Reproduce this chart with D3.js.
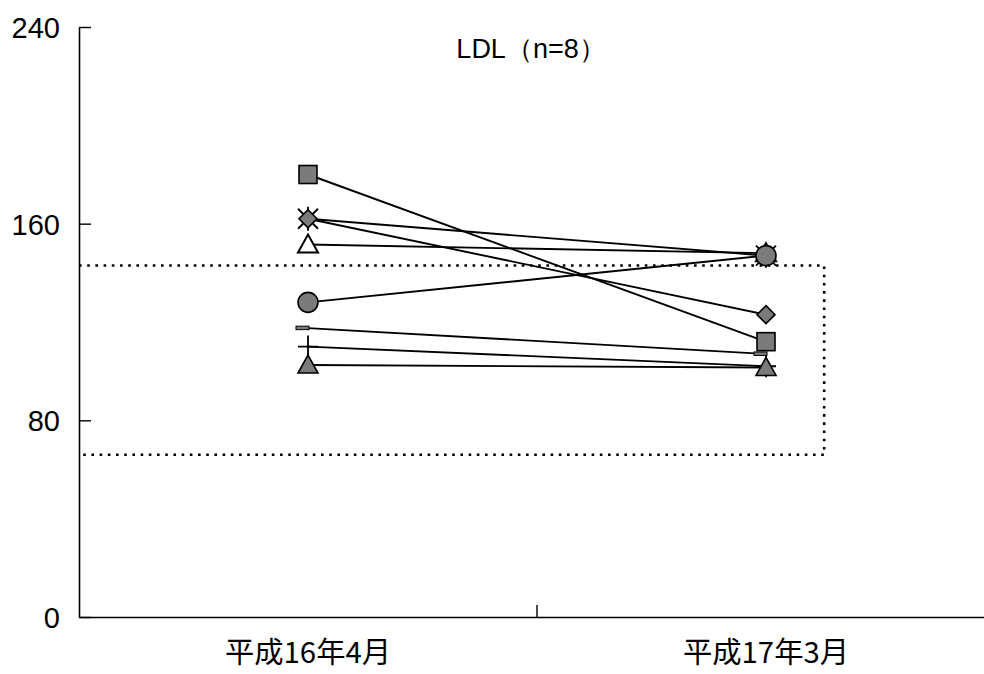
<!DOCTYPE html>
<html><head><meta charset="utf-8">
<script src="https://cdn.jsdelivr.net/npm/d3@7"></script>
<style>body{margin:0;background:#fff}svg{display:block}</style>
</head><body>
<svg id="c" width="984" height="674"></svg>
<script>
const categories = ["平成16年4月", "平成17年3月"];
const yTicks = [0, 80, 160, 240];
const title = "LDL（n=8）";
const refBand = [66, 143];
// series values [start, end] in draw order
const seriesNames = ["star", "plus", "dash", "openTriangle", "circle", "diamond", "square", "filledTriangle"];
const starVals = [162, 147];
const plusVals = [110, 102];
const dashVals = [117.5, 107];
const openTriangleVals = [151.5, 148];
const circleVals = [128, 147];
const diamondVals = [162, 123];
const squareVals = [180, 112];
const filledTriangleVals = [102.5, 101.5];
const allVals = [starVals, plusVals, dashVals, openTriangleVals, circleVals, diamondVals, squareVals, filledTriangleVals];

const svg = d3.select("#c");
const x = d3.scaleBand().domain(categories).range([79, 995]).padding(0);
const y = d3.scaleLinear().domain([0, 240]).range([617, 27]);
const cx = c => x(c) + x.bandwidth() / 2;

// reference box (dotted)
const boxRight = x(categories[1]) + x.bandwidth() * 0.627;
svg.append("path")
  .attr("d", `M${x.range()[0]},${y(refBand[1])}H${boxRight}V${y(refBand[0])}H${x.range()[0]}`)
  .attr("fill", "none").attr("stroke", "#000").attr("stroke-width", 2.6)
  .attr("stroke-dasharray", "2.6,5.6");

// y axis
const yAxis = d3.axisLeft(y).tickValues(yTicks).tickSizeInner(-12).tickSizeOuter(0).tickPadding(19);
const gy = svg.append("g").attr("transform", `translate(${x.range()[0]},0)`).call(yAxis);
gy.select(".domain").attr("stroke-width", 1.6);
gy.selectAll(".tick line").attr("stroke-width", 1.4);
gy.selectAll("text").attr("font-family", "Liberation Sans, Arial, sans-serif").attr("font-size", 29).attr("fill", "#000").attr("dy", "0.36em");

// x axis
const xAxis = d3.axisBottom(x).tickSize(0).tickPadding(25);
const gx = svg.append("g").attr("transform", `translate(0,${y(0)})`).call(xAxis);
gx.select(".domain").attr("stroke-width", 1.6);
gx.selectAll("text").attr("font-family", "Noto Sans CJK JP, sans-serif").attr("font-size", 29)
  .attr("fill", "#000").attr("textLength", 166).attr("lengthAdjust", "spacingAndGlyphs").attr("dy", "0.72em");
svg.append("line").attr("x1", x(categories[1])).attr("x2", x(categories[1]))
  .attr("y1", y(0)).attr("y2", y(0) - 12).attr("stroke", "#000").attr("stroke-width", 1.4);

// title
svg.append("text").attr("x", cx(categories[0]) + (cx(categories[1]) - cx(categories[0])) * 0.487).attr("y", 58)
  .attr("text-anchor", "middle").attr("font-family", "Liberation Sans, Arial, sans-serif").attr("font-size", 27)
  .attr("fill", "#000")
  .text(title);

// lines
allVals.forEach(vals => {
  svg.append("path")
    .attr("d", d3.line().x((d, i) => cx(categories[i])).y(d => y(d))(vals))
    .attr("fill", "none").attr("stroke", "#000").attr("stroke-width", 1.9);
});

// markers
const gray = "#7b7b7b";
function drawMarker(name, px, py) {
  const g = svg.append("g").attr("transform", `translate(${px},${py})`);
  if (name === "star") {
    g.append("path").attr("d", "M-10,-10L10,10M10,-10L-10,10M0,-12V12")
      .attr("stroke", "#000").attr("stroke-width", 1.8).attr("fill", "none");
  } else if (name === "plus") {
    g.append("path").attr("d", "M-10,0H10M0,-11V11").attr("stroke", "#000").attr("stroke-width", 1.8);
  } else if (name === "dash") {
    g.append("rect").attr("x", -12).attr("y", -2).attr("width", 13).attr("height", 3.5)
      .attr("fill", gray).attr("stroke", "#000").attr("stroke-width", 1);
  } else if (name === "openTriangle") {
    g.append("path").attr("d", "M0,-10L10,8H-10Z").attr("fill", "#fff").attr("stroke", "#000").attr("stroke-width", 2);
  } else if (name === "filledTriangle") {
    g.append("path").attr("d", "M0,-10L10,8H-10Z").attr("fill", gray).attr("stroke", "#000").attr("stroke-width", 1.6);
  } else if (name === "circle") {
    g.append("circle").attr("r", 10).attr("fill", gray).attr("stroke", "#000").attr("stroke-width", 1.6);
  } else if (name === "diamond") {
    g.append("path").attr("d", "M0,-9L9,0L0,9L-9,0Z").attr("fill", gray).attr("stroke", "#000").attr("stroke-width", 1.6);
  } else if (name === "square") {
    g.append("rect").attr("x", -9).attr("y", -9).attr("width", 18).attr("height", 18)
      .attr("fill", gray).attr("stroke", "#000").attr("stroke-width", 1.6);
  }
}
seriesNames.forEach((name, si) => {
  allVals[si].forEach((v, i) => drawMarker(name, cx(categories[i]), y(v)));
});
</script>
</body></html>
